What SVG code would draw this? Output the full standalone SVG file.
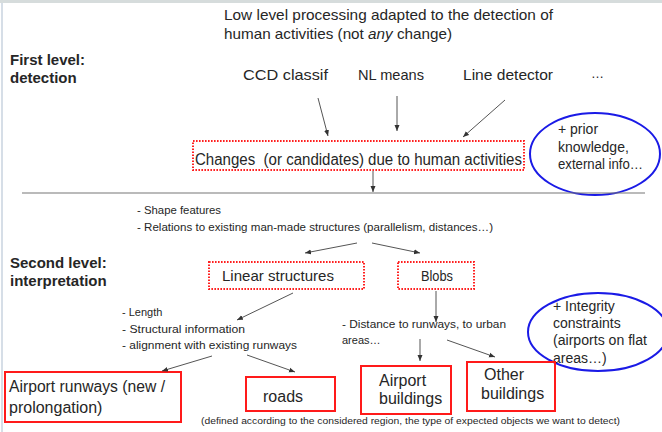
<svg xmlns="http://www.w3.org/2000/svg" width="662" height="432" viewBox="0 0 662 432">
<defs>
<marker id="ah" markerWidth="8" markerHeight="8" refX="6" refY="3" orient="auto" markerUnits="userSpaceOnUse">
<path d="M0,0.5 L6,3 L0,5.5 Z" fill="#333"/>
</marker>
<style>
text{font-family:"Liberation Sans",Arial,sans-serif;fill:#262626}
.b{font-weight:bold}
.dot{fill:none;stroke:#ff2020;stroke-width:2;stroke-dasharray:1.6 1.4}
.box{fill:none;stroke:#ff1a1a;stroke-width:2}
.ell{fill:none;stroke:#1a1ae6;stroke-width:2}
.ar{stroke:#555;stroke-width:1;fill:none;marker-end:url(#ah)}
.s15{font-size:15px}
.s14{font-size:14px}
.s11{font-size:11px}
</style>
</defs>
<rect x="0" y="0" width="662" height="432" fill="#fff"/>
<rect x="0" y="0" width="662" height="3" fill="#d6dcdc"/>
<line x1="2" y1="3" x2="2" y2="432" stroke="#c9d3df" stroke-width="1.5"/>

<g id="title">
<text class="s15" x="224" y="20" textLength="329" lengthAdjust="spacingAndGlyphs">Low level processing adapted to the detection of</text>
<text class="s15" x="224" y="39" textLength="228" lengthAdjust="spacingAndGlyphs">human activities (not <tspan font-style="italic">any</tspan> change)</text>
</g>
<g id="level1">
<text class="b" font-size="15" x="10" y="65">First level:</text>
<text class="b" font-size="15" x="10" y="83">detection</text>
</g>
<g id="ccd"><text class="s15" x="243" y="80" textLength="85" lengthAdjust="spacingAndGlyphs">CCD classif</text></g>
<g id="nl"><text class="s15" x="358" y="80" textLength="66" lengthAdjust="spacingAndGlyphs">NL means</text></g>
<g id="line"><text class="s15" x="463" y="80" textLength="90" lengthAdjust="spacingAndGlyphs">Line detector</text></g>
<g id="more"><text font-size="13" x="591" y="78">…</text></g>

<g id="changes">
<rect class="dot" x="193" y="141" width="331" height="29"/>
<text x="195" y="165" font-size="16" textLength="327" lengthAdjust="spacingAndGlyphs">Changes &#160;(or candidates) due to human activities</text>
</g>
<g id="prior">
<ellipse class="ell" cx="595" cy="154" rx="65" ry="41"/>
<text class="s14" x="558" y="134">+ prior</text>
<text class="s14" x="558" y="152">knowledge,</text>
<text class="s14" x="558" y="169" textLength="85" lengthAdjust="spacingAndGlyphs">external info…</text>
</g>
<g id="separator"><line x1="22" y1="193" x2="645" y2="193" stroke="#777" stroke-width="1.2"/></g>

<g id="features">
<text class="s11" x="137" y="214" textLength="84" lengthAdjust="spacingAndGlyphs">- Shape features</text>
<text class="s11" x="137" y="231" textLength="356" lengthAdjust="spacingAndGlyphs">- Relations to existing man-made structures (parallelism, distances…)</text>
</g>
<g id="level2">
<text class="b" font-size="15" x="10" y="268">Second level:</text>
<text class="b" font-size="15" x="10" y="286">interpretation</text>
</g>
<g id="linear">
<rect class="dot" x="209" y="262" width="155" height="27"/>
<text class="s15" x="222" y="281" textLength="112" lengthAdjust="spacingAndGlyphs">Linear structures</text>
</g>
<g id="blobs">
<rect class="dot" x="398" y="262" width="76" height="27"/>
<text class="s15" x="421" y="281" textLength="32" lengthAdjust="spacingAndGlyphs">Blobs</text>
</g>
<g id="linfeat">
<text class="s11" x="122" y="316">- Length</text>
<text class="s11" x="122" y="333" textLength="123" lengthAdjust="spacingAndGlyphs">- Structural information</text>
<text class="s11" x="122" y="349" textLength="175" lengthAdjust="spacingAndGlyphs">- alignment with existing runways</text>
</g>
<g id="blobfeat">
<text class="s11" x="342" y="328" textLength="164" lengthAdjust="spacingAndGlyphs">- Distance to runways, to urban</text>
<text class="s11" x="342" y="344">areas…</text>
</g>
<g id="integrity">
<ellipse class="ell" cx="598" cy="332" rx="70" ry="39"/>
<text class="s14" x="553" y="311">+ Integrity</text>
<text class="s14" x="553" y="328">constraints</text>
<text class="s14" x="553" y="345" textLength="94" lengthAdjust="spacingAndGlyphs">(airports on flat</text>
<text class="s14" x="553" y="363">areas…)</text>
</g>
<g id="runways">
<rect class="box" x="5" y="372" width="176" height="50"/>
<text x="9" y="392" font-size="16" textLength="156" lengthAdjust="spacingAndGlyphs">Airport runways (new /</text>
<text x="9" y="413" font-size="16">prolongation)</text>
</g>
<g id="roads">
<rect class="box" x="246" y="377" width="89" height="34"/>
<text x="263" y="402" font-size="16">roads</text>
</g>
<g id="airportb">
<rect class="box" x="361" y="366" width="90" height="48"/>
<text x="379" y="386" font-size="16">Airport</text>
<text x="379" y="404" font-size="16">buildings</text>
</g>
<g id="otherb">
<rect class="box" x="467" y="362" width="88" height="49"/>
<text x="484" y="380" font-size="16">Other</text>
<text x="481" y="399" font-size="16">buildings</text>
</g>
<g id="footer">
<text x="201" y="424" font-size="9.5" textLength="419" lengthAdjust="spacingAndGlyphs">(defined according to the considered region, the type of expected objects we want to detect)</text>
</g>

<g id="connectors">
<line class="ar" x1="318" y1="98" x2="328" y2="136"/>
<line class="ar" x1="397" y1="96" x2="397" y2="131"/>
<line class="ar" x1="505" y1="100" x2="463" y2="137"/>
<line class="ar" x1="373" y1="171" x2="373" y2="192"/>
<line class="ar" x1="357" y1="243" x2="305" y2="253"/>
<line class="ar" x1="372" y1="243" x2="420" y2="253"/>
<line class="ar" x1="293" y1="293" x2="237" y2="320"/>
<line class="ar" x1="436" y1="291" x2="436" y2="322"/>
<line class="ar" x1="212" y1="356" x2="162" y2="371"/>
<line class="ar" x1="247" y1="355" x2="295" y2="372"/>
<line class="ar" x1="420" y1="339" x2="420" y2="361"/>
<line class="ar" x1="447" y1="340" x2="495" y2="357"/>
</g>
</svg>
